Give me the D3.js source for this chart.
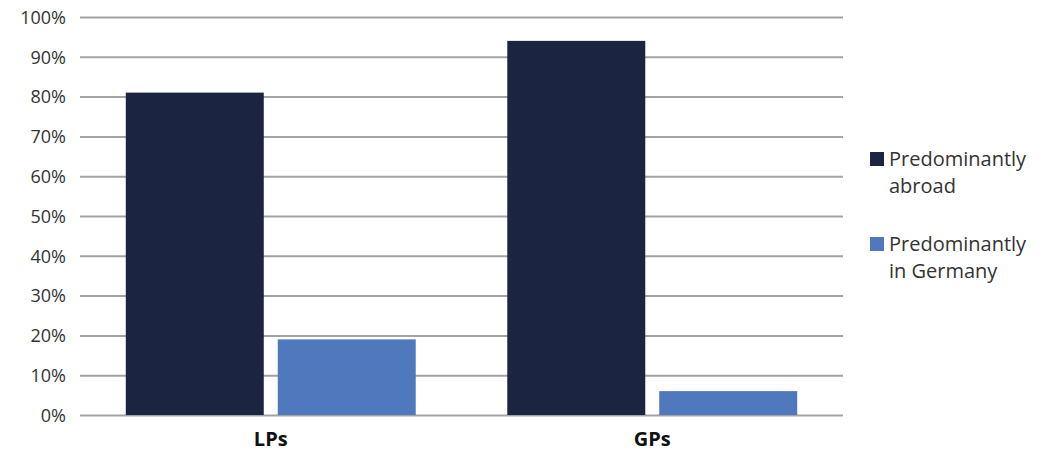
<!DOCTYPE html>
<html>
<head>
<meta charset="utf-8">
<script src="https://cdn.jsdelivr.net/npm/d3@7"></script>
<style>
  body { margin: 0; background: #fff; }
  svg text { font-family: "Open Sans", "Noto Sans", sans-serif; }
</style>
</head>
<body>
<div class="chart"></div>
<script>
// data
const categories = ['LPs', 'GPs'];
const seriesNames = ['Predominantly abroad', 'Predominantly in Germany'];
const abroadValues = [0.81, 0.94];
const germanyValues = [0.19, 0.06];
const yTicks = [0, 0.1, 0.2, 0.3, 0.4, 0.5, 0.6, 0.7, 0.8, 0.9, 1.0];
const legendLines = [['Predominantly', 'abroad'], ['Predominantly', 'in Germany']];
const colors = ['#1b2440', '#4f78bd'];

const width = 1050, height = 454;
const margin = { top: 17, right: 207, bottom: 39, left: 80 };
const plotW = width - margin.left - margin.right;
const plotH = height - margin.top - margin.bottom;

const svg = d3.select('.chart').append('svg')
    .attr('width', width).attr('height', height);
const g = svg.append('g')
    .attr('transform', `translate(${margin.left},${margin.top})`);

const yScale = d3.scaleLinear([0, 1], [plotH, 0]);
const xScale = d3.scaleBand().domain(categories).range([0, plotW])
    .paddingInner(0.24).paddingOuter(0.12);
const xSub = d3.scaleBand().domain(seriesNames).range([0, xScale.bandwidth()])
    .paddingInner(0.092);

// grid + y labels
const yAxis = d3.axisLeft(yScale).tickValues(yTicks)
    .tickFormat(d3.format('.0%'))
    .tickSize(-plotW).tickPadding(14);
const yAxisDraw = g.append('g').call(yAxis);
yAxisDraw.select('.domain').remove();
yAxisDraw.selectAll('line').attr('stroke', '#a3a3a3').attr('stroke-width', 2);
yAxisDraw.selectAll('text').attr('fill', '#333').style('font-size', '18px')
    .attr('dy', '0.35em');

// bars
const rows = categories.map((c, i) => ({
    category: c,
    values: [abroadValues[i], germanyValues[i]]
}));
const groups = g.append('g').selectAll('g').data(rows).join('g')
    .attr('transform', d => `translate(${xScale(d.category)},0)`);
groups.selectAll('rect')
    .data(d => d.values.map((v, j) => ({ key: seriesNames[j], value: v, j })))
    .join('rect')
    .attr('x', d => xSub(d.key))
    .attr('width', xSub.bandwidth())
    .attr('y', d => yScale(d.value))
    .attr('height', d => yScale(0) - yScale(d.value))
    .attr('fill', d => colors[d.j]);

// x labels
const xAxis = d3.axisBottom(xScale).tickSize(0).tickPadding(17);
const xAxisDraw = g.append('g').attr('transform', `translate(0,${plotH})`).call(xAxis);
xAxisDraw.select('.domain').remove();
xAxisDraw.selectAll('text').attr('fill', '#111')
    .style('font-size', '20px').style('font-weight', 'bold');

// legend
const legend = svg.append('g').attr('transform', 'translate(870,152)');
const items = legend.selectAll('g').data(legendLines).join('g')
    .attr('transform', (d, i) => `translate(0,${i * 85})`);
items.append('rect').attr('width', 14).attr('height', 14)
    .attr('fill', (d, i) => colors[i]);
items.append('text').attr('x', 19).attr('y', 14)
    .attr('fill', '#333').style('font-size', '20px')
    .selectAll('tspan').data(d => d).join('tspan')
    .attr('x', 19).attr('dy', (d, i) => i === 0 ? 0 : 27)
    .text(d => d);
</script>
</body>
</html>
